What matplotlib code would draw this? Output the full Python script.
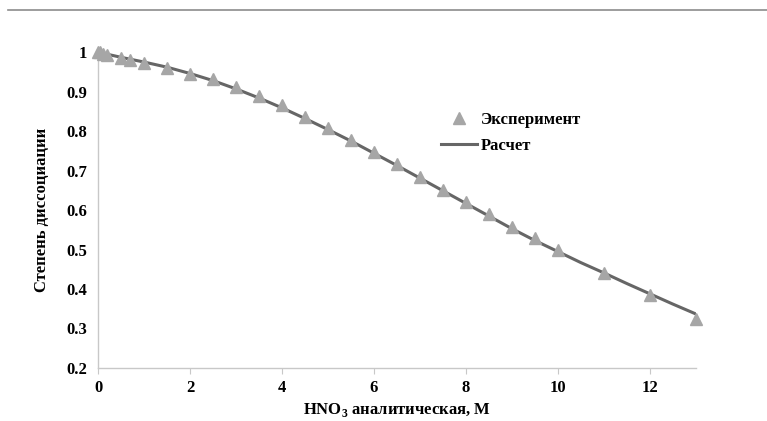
import numpy as np
import matplotlib.pyplot as plt
from matplotlib.lines import Line2D

plt.rcParams['font.family'] = ['Liberation Serif', 'DejaVu Serif']
plt.rcParams['font.weight'] = 'bold'
plt.rcParams['mathtext.fontset'] = 'custom'
plt.rcParams['mathtext.rm'] = 'Liberation Serif:bold'
plt.rcParams['mathtext.bf'] = 'Liberation Serif:bold'

# experimental points
x_exp = [0, 0.05, 0.1, 0.2, 0.5, 0.7, 1, 1.5, 2, 2.5, 3, 3.5, 4, 4.5, 5, 5.5,
         6, 6.5, 7, 7.5, 8, 8.5, 9, 9.5, 10, 11, 12, 13]
y_exp = [1.0, 1.0, 0.996, 0.992, 0.985, 0.98, 0.973, 0.96, 0.946, 0.933, 0.912,
         0.89, 0.866, 0.837, 0.808, 0.778, 0.748, 0.716, 0.683, 0.652, 0.621,
         0.589, 0.558, 0.53, 0.5, 0.441, 0.384, 0.324]

# calculated curve
x_calc = [0, 0.5, 1, 1.5, 2, 2.5, 3, 3.5, 4, 4.5, 5, 5.5, 6, 6.5, 7, 7.5, 8,
          8.5, 9, 9.5, 10, 10.5, 11, 11.5, 12, 12.5, 13]
y_calc = [1.0, 0.987, 0.975, 0.962, 0.946, 0.928, 0.907, 0.884, 0.859, 0.832,
          0.804, 0.775, 0.744, 0.713, 0.681, 0.649, 0.617, 0.585, 0.553, 0.523,
          0.495, 0.467, 0.441, 0.414, 0.388, 0.362, 0.337]

fig = plt.figure(figsize=(7.67, 4.21), dpi=100)
ax = fig.add_axes([0.128, 0.126, 0.779, 0.750])

ax.plot(x_calc, y_calc, color='#666666', lw=2.2, label='Расчет', zorder=2)
ax.plot(x_exp, y_exp, linestyle='none', marker='^', ms=9, color='#a6a6a6',
        label='Эксперимент', zorder=3, clip_on=False)

ax.set_xlim(0, 13)
ax.set_ylim(0.2, 1.0)
ax.set_xticks([0, 2, 4, 6, 8, 10, 12])
ax.set_yticks([0.2, 0.3, 0.4, 0.5, 0.6, 0.7, 0.8, 0.9, 1.0])
ax.set_yticklabels(['0.2', '0.3', '0.4', '0.5', '0.6', '0.7', '0.8', '0.9', '1'])

for s in ['top', 'right']:
    ax.spines[s].set_visible(False)
for s in ['left', 'bottom']:
    ax.spines[s].set_color('#c8c8c8')
    ax.spines[s].set_linewidth(1)
ax.tick_params(axis='x', direction='out', length=4, color='#c8c8c8',
               labelsize=12, pad=5)
ax.tick_params(axis='y', length=0, labelsize=12, pad=8)

ax.set_xlabel('HNO$_\\mathbf{3}$ аналитическая, М', fontsize=12,
              fontweight='bold', labelpad=3)
ax.set_ylabel('Степень диссоциации', fontsize=12, fontweight='bold',
              labelpad=12)

h, l = ax.get_legend_handles_labels()
ax.legend([h[1], h[0]], [l[1], l[0]], loc='upper left',
          bbox_to_anchor=(0.555, 0.77), bbox_transform=fig.transFigure,
          frameon=False, fontsize=12, handlelength=2.2, handletextpad=0.2,
          labelspacing=0.6)

fig.add_artist(Line2D([0.01, 1.0], [0.976, 0.976], color='#8c8c8c', lw=1.2,
                      transform=fig.transFigure))

fig.savefig('out.png', dpi=100)
